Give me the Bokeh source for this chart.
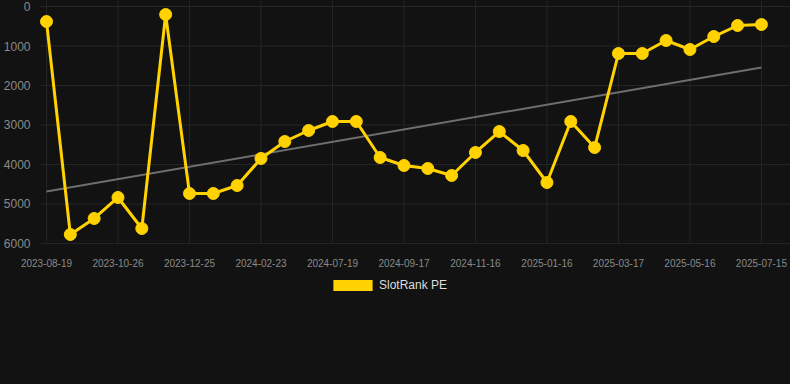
from bokeh.plotting import figure
from bokeh.models import Range1d, FixedTicker, Legend, LegendItem
from bokeh.embed import file_html
from bokeh.resources import INLINE

# ---- data ----
x_index = list(range(31))
rank = [380, 5772, 5367, 4835, 5620, 203, 4734, 4734, 4532, 3848,
        3418, 3139, 2911, 2911, 3823, 4025, 4101, 4278, 3696, 3165,
        3646, 4456, 2911, 3570, 1190, 1190, 861, 1089, 760, 481, 456]
tick_index = [0, 3, 6, 9, 12, 15, 18, 21, 24, 27, 30]
tick_labels = ["2023-08-19", "2023-10-26", "2023-12-25", "2024-02-23",
               "2024-07-19", "2024-09-17", "2024-11-16", "2025-01-16",
               "2025-03-17", "2025-05-16", "2025-07-15"]
y_ticks = [0, 1000, 2000, 3000, 4000, 5000, 6000]
trend_x = [0, 30]
trend_y = [4684, 1544]
series_name = "SlotRank PE"

BG = "#121212"
GOLD = "#FFD200"
GRID = "#262626"
TICK = "#8a8a8a"

# view window (canvas edges) and plot-area edges in data units
X_CANVAS_LEFT, X_CANVAS_RIGHT = -1.93, 31.22
X_AREA_LEFT = -0.25
Y_TOP, Y_BOTTOM = -152, 9570

p = figure(width=790, height=384, output_backend="svg", toolbar_location=None,
           x_range=Range1d(X_CANVAS_LEFT, X_CANVAS_RIGHT),
           y_range=Range1d(Y_BOTTOM, Y_TOP),
           min_border_left=0, min_border_right=0, min_border_top=0,
           min_border_bottom=0, outline_line_color=None)
p.styles = {"background-color": BG}
p.background_fill_color = BG
p.border_fill_color = BG

p.xaxis.ticker = FixedTicker(ticks=tick_index)
p.xaxis.major_label_overrides = {i: s for i, s in zip(tick_index, tick_labels)}
p.xaxis.fixed_location = y_ticks[-1]
p.yaxis.ticker = FixedTicker(ticks=y_ticks)
p.yaxis.fixed_location = X_AREA_LEFT
for ax in list(p.xaxis) + list(p.yaxis):
    ax.axis_line_color = None
    ax.major_tick_line_color = None
    ax.minor_tick_line_color = None
    ax.major_label_text_color = TICK
    ax.major_label_text_font = "Liberation Sans"
p.xaxis.major_label_text_font_size = "10px"
p.yaxis.major_label_text_font_size = "12px"
p.xaxis.major_label_standoff = 10
p.yaxis.major_label_standoff = 4
for g in list(p.xgrid) + list(p.ygrid):
    g.visible = False

# grid lines only across the plot area
p.segment(x0=tick_index, y0=[Y_TOP] * len(tick_index),
          x1=tick_index, y1=[y_ticks[-1]] * len(tick_index),
          line_color=GRID, line_width=1)
p.segment(x0=[X_AREA_LEFT] * len(y_ticks), y0=y_ticks,
          x1=[X_CANVAS_RIGHT] * len(y_ticks), y1=y_ticks,
          line_color=GRID, line_width=1)

p.line(trend_x, trend_y, line_color="#6e6e6e", line_width=2)
p.line(x_index, rank, line_color=GOLD, line_width=3)
p.scatter(x_index, rank, size=12, fill_color=GOLD, line_color=GOLD)

# zero-area quad: only provides the filled legend swatch
legend_glyph = p.quad(left=x_index[:1], right=x_index[:1], top=rank[:1], bottom=rank[:1],
                      fill_color=GOLD, line_color=None)

legend = Legend(items=[LegendItem(label=series_name, renderers=[legend_glyph])],
                location=(328, 92.4), orientation="horizontal",
                glyph_width=49, glyph_height=14, label_height=14,
                label_standoff=2, padding=0, margin=0, spacing=0,
                border_line_color=None, background_fill_alpha=0,
                label_text_color="#dddddd", label_text_font_size="12px",
                label_text_font="Liberation Sans")
p.add_layout(legend)

open("out.html", "w").write(file_html(p, INLINE))
